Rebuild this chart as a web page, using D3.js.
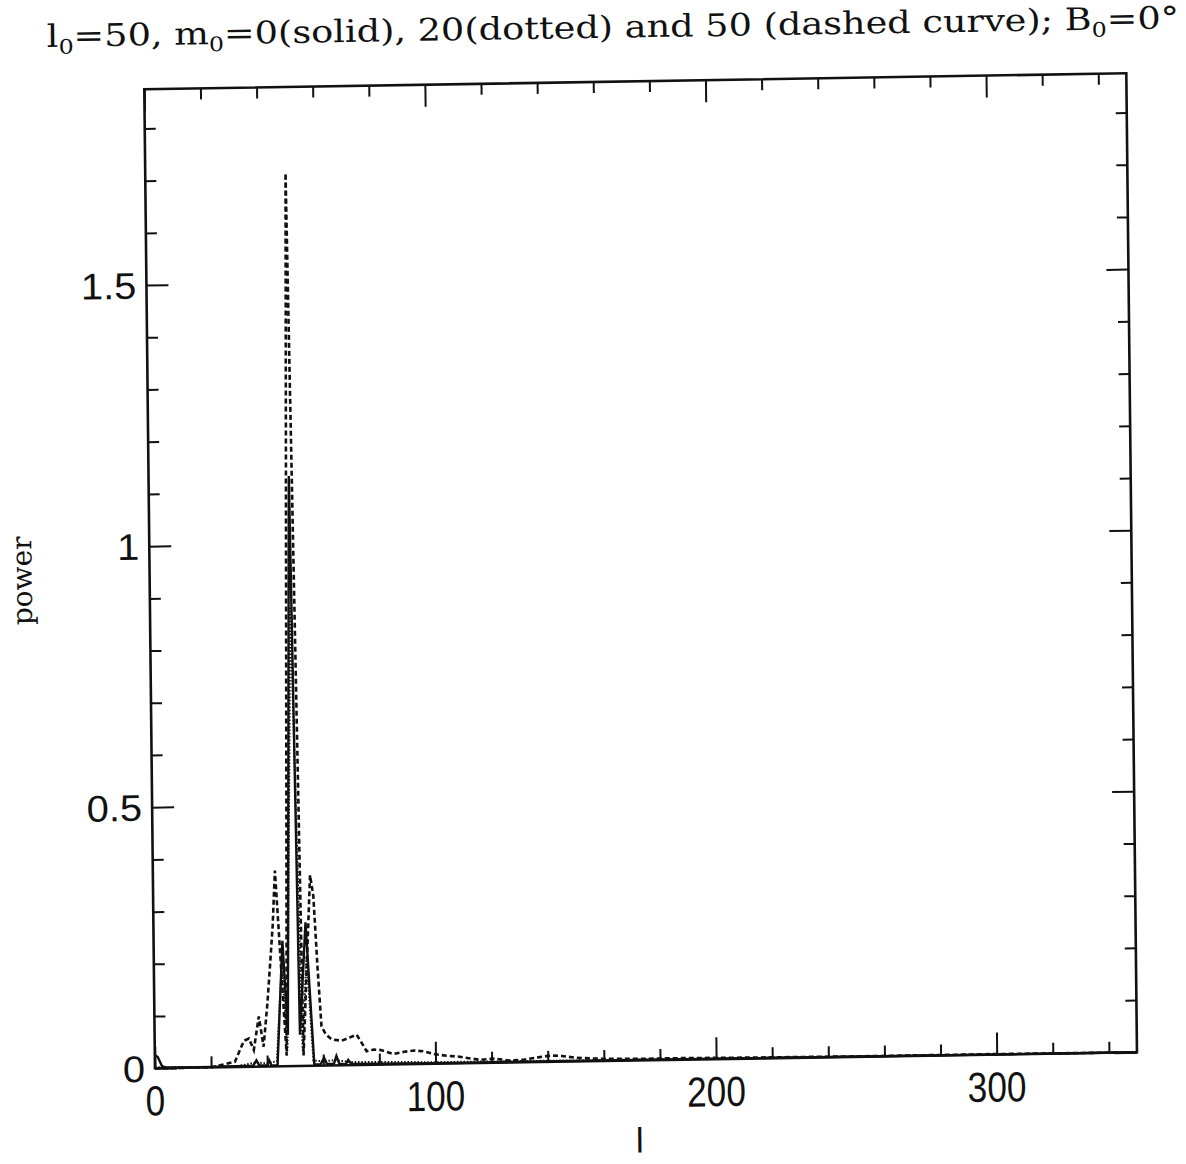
<!DOCTYPE html>
<html>
<head>
<meta charset="utf-8">
<script src="https://cdn.jsdelivr.net/npm/d3@7"></script>
<style>
body { margin: 0; background: #fff; }
</style>
</head>
<body>
<script>
// m0 = 0 (solid)
var lSolid = [0, 1, 2.5, 4, 20, 35, 36.2, 37.2, 40, 40.7, 41.5, 43.7, 45.9, 47.5, 50, 51.8, 54.2, 56.8, 59, 60.3, 61.3, 63.8, 64.7, 65.7, 68, 68.9, 70, 100, 200, 350];
var pSolid = [0.025, 0.022, 0.004, 0.001, 0.001, 0.002, 0.012, 0.002, 0.002, 0.012, 0.002, 0.002, 0.24, 0.06, 1.13, 0.06, 0.275, 0.003, 0.002, 0.015, 0.003, 0.003, 0.018, 0.003, 0.002, 0.01, 0.002, 0.001, 0.001, 0];

// m0 = 20 (dotted)
var lDot = [0, 20, 30, 36, 40, 43.5, 45.6, 47.3, 50, 52.7, 54.4, 56.5, 60, 64, 70, 80, 100, 150, 200, 350];
var pDot = [0.002, 0.001, 0.002, 0.008, 0.006, 0.01, 0.2, 0.03, 0.88, 0.03, 0.21, 0.01, 0.008, 0.01, 0.006, 0.005, 0.003, 0.002, 0.001, 0];

// m0 = 50 (dashed)
var lDash = [0, 20, 28.5, 31.8, 33.6, 35.3, 37.2, 38.8, 40.3, 41.5, 42.5, 43.5, 47, 50, 53, 56, 57.1, 58.3, 59.5, 61, 63, 66.6, 69.5, 72, 74, 75.5, 78, 80.5, 85, 89, 92.5, 96, 100, 104, 108, 112.5, 116, 121, 126, 131.5, 136.5, 141, 145, 150, 160, 175, 190, 210, 250, 300, 350];
var pDash = [0, 0, 0.01, 0.05, 0.054, 0.032, 0.096, 0.038, 0.12, 0.2, 0.27, 0.375, 0.02, 1.71, 0.02, 0.365, 0.325, 0.19, 0.075, 0.06, 0.05, 0.047, 0.053, 0.058, 0.04, 0.026, 0.029, 0.028, 0.02, 0.024, 0.026, 0.024, 0.018, 0.015, 0.013, 0.009, 0.006, 0.008, 0.004, 0.005, 0.009, 0.012, 0.011, 0.007, 0.004, 0.003, 0.003, 0.002, 0.001, 0.001, 0];

// ticks
var xMajor = [0, 100, 200, 300];
var xMinor = [20, 40, 60, 80, 120, 140, 160, 180, 220, 240, 260, 280, 320, 340];
var yMajor = [0, 0.5, 1, 1.5];
var yMinor = [0.1, 0.2, 0.3, 0.4, 0.6, 0.7, 0.8, 0.9, 1.1, 1.2, 1.3, 1.4, 1.6, 1.7, 1.8];
var xLabels = ["0", "100", "200", "300"];
var yLabels = ["0", "0.5", "1", "1.5"];

var width = 982, height = 979;

var svg = d3.select("body").append("svg")
    .attr("width", 1186)
    .attr("height", 1164);

// the scanned page is slightly skewed
var g = svg.append("g")
    .attr("transform", "translate(144.3,89.3) matrix(1,-0.0163,0.0109,1,0,0)");

var xScale = d3.scaleLinear().domain([0, 350]).range([0, width]);
var yScale = d3.scaleLinear().domain([0, 1.875]).range([height, 0]);

// ticks on all four sides, pointing inward
function tickGroup(axisFn, scale, vals, size, tr) {
  var a = g.append("g")
      .attr("transform", tr)
      .call(axisFn(scale).tickValues(vals).tickSize(-size).tickSizeOuter(0).tickFormat(""));
  a.select(".domain").remove();
  a.selectAll("line").attr("stroke", "#111").attr("stroke-width", 2);
}
tickGroup(d3.axisBottom, xScale, xMajor, 22, "translate(0," + height + ")");
tickGroup(d3.axisBottom, xScale, xMinor, 11, "translate(0," + height + ")");
tickGroup(d3.axisTop, xScale, xMajor, 22, "translate(0,0)");
tickGroup(d3.axisTop, xScale, xMinor, 11, "translate(0,0)");
tickGroup(d3.axisLeft, yScale, yMajor, 22, "translate(0,0)");
tickGroup(d3.axisLeft, yScale, yMinor, 11, "translate(0,0)");
tickGroup(d3.axisRight, yScale, yMajor, 22, "translate(" + width + ",0)");
tickGroup(d3.axisRight, yScale, yMinor, 11, "translate(" + width + ",0)");

// frame
g.append("rect")
  .attr("x", 0).attr("y", 0)
  .attr("width", width).attr("height", height)
  .attr("fill", "none")
  .attr("stroke", "#111")
  .attr("stroke-width", 2.6);

// tick labels
g.selectAll(".xl")
  .data(xMajor)
  .enter()
  .append("text")
  .attr("transform", function(d){ return "translate(" + xScale(d) + "," + (height + 47) + ") scale(0.84,1)"; })
  .attr("text-anchor", "middle")
  .attr("font-family", "Liberation Sans, Arial, sans-serif")
  .attr("font-size", 42)
  .attr("fill", "#111")
  .text(function(d, i){ return xLabels[i]; });

g.selectAll(".yl")
  .data(yMajor)
  .enter()
  .append("text")
  .attr("transform", function(d){ return "translate(-10," + yScale(d) + ") scale(1.08,1)"; })
  .attr("dy", "0.36em")
  .attr("text-anchor", "end")
  .attr("font-family", "Liberation Sans, Arial, sans-serif")
  .attr("font-size", 37)
  .attr("fill", "#111")
  .text(function(d, i){ return yLabels[i]; });

// curves
function zip(ls, ps) { return ls.map(function(l, i){ return [l, ps[i]]; }); }
var line = d3.line()
    .x(function(d){ return xScale(d[0]); })
    .y(function(d){ return yScale(d[1]); });

g.append("path")
  .datum(zip(lDash, pDash))
  .attr("d", line)
  .attr("fill", "none")
  .attr("stroke", "#111")
  .attr("stroke-width", 2.6)
  .attr("stroke-dasharray", "5,3");

g.append("path")
  .datum(zip(lDot, pDot))
  .attr("d", line)
  .attr("fill", "none")
  .attr("stroke", "#111")
  .attr("stroke-width", 2)
  .attr("stroke-dasharray", "1.5,1.8");

g.append("path")
  .datum(zip(lSolid, pSolid))
  .attr("d", line)
  .attr("fill", "none")
  .attr("stroke", "#111")
  .attr("stroke-width", 2.4);

// axis titles
g.append("text")
  .attr("x", xScale(172.5))
  .attr("y", height + 92)
  .attr("text-anchor", "middle")
  .attr("font-family", "Liberation Sans, Arial, sans-serif")
  .attr("font-size", 35)
  .attr("fill", "#111")
  .text("l");

g.append("text")
  .attr("transform", "translate(-118," + (height / 2) + ") rotate(-90)")
  .attr("text-anchor", "middle")
  .attr("font-family", "DejaVu Serif, serif")
  .attr("font-size", 28)
  .attr("fill", "#111")
  .text("power");

// title with subscripts
var title = g.append("text")
  .attr("x", -97)
  .attr("y", -44)
  .attr("font-family", "DejaVu Serif, serif")
  .attr("font-size", 31)
  .attr("fill", "#111");
var parts = [["l", false], ["0", true], ["=50, m", false], ["0", true], ["=0(solid), 20(dotted) and 50 (dashed curve); B", false], ["0", true], ["=0°", false]];
parts.forEach(function(p, i){
  var prevSub = i > 0 && parts[i - 1][1];
  title.append("tspan")
    .attr("dy", p[1] ? 7 : (prevSub ? -7 : 0))
    .attr("font-size", p[1] ? 20 : 31)
    .text(p[0]);
});
var tw = title.node().getComputedTextLength();
title.attr("transform", "translate(-97,0) scale(" + (1133 / tw) + ",1) translate(97,0)");
</script>
</body>
</html>
